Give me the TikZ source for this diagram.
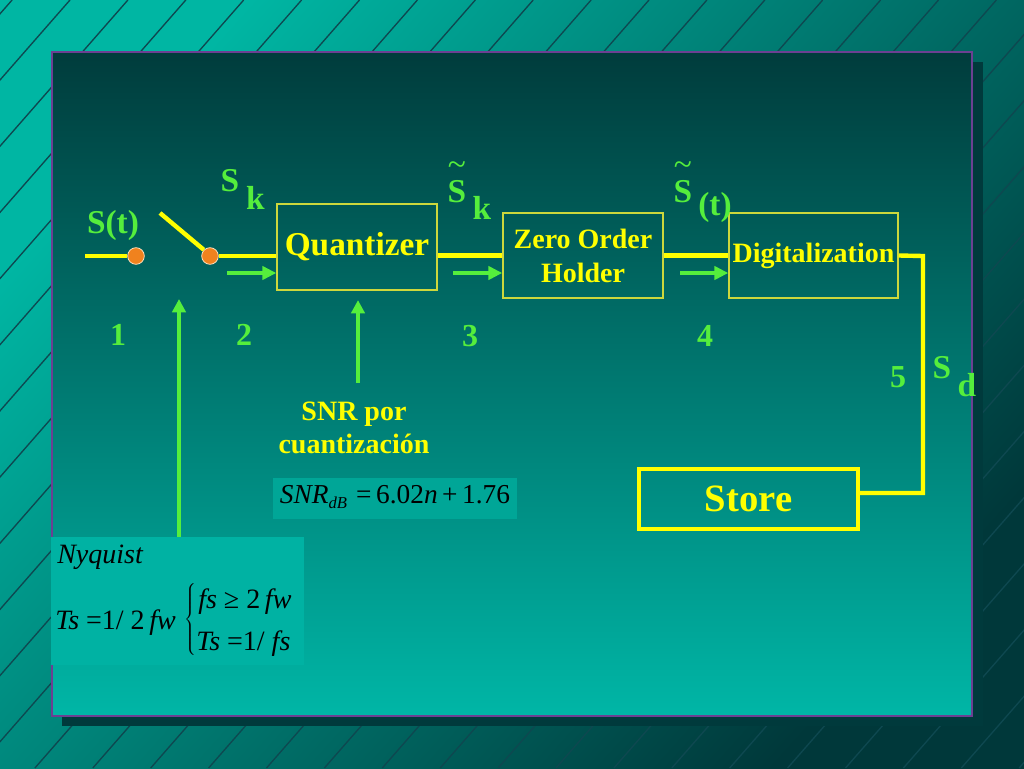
\documentclass[tikz,border=0pt]{standalone}
\usepackage{fontspec}
\setmainfont{Liberation Serif}
\usetikzlibrary{arrows.meta}
\definecolor{bgtop}{RGB}{0,182,163}
\definecolor{bgbot}{RGB}{0,56,58}
\definecolor{hatchc}{RGB}{14,72,80}
\definecolor{shadowc}{RGB}{0,58,60}
\definecolor{paneltop}{RGB}{0,60,60}
\definecolor{panelbot}{RGB}{0,182,166}
\definecolor{panelborder}{RGB}{108,64,146}
\definecolor{yel}{RGB}{255,255,0}
\definecolor{boxc}{RGB}{205,215,60}
\definecolor{grn}{RGB}{85,238,60}
\definecolor{orng}{RGB}{240,130,30}
\definecolor{dotedge}{RGB}{255,225,190}
\definecolor{fboxc}{RGB}{0,166,151}
\definecolor{nyqc}{RGB}{0,178,163}
\newcommand{\tildeS}{\ooalign{S\cr\hidewidth\raisebox{0.8em}{\mdseries\textasciitilde}\hidewidth\cr}}
\begin{document}
\begin{tikzpicture}[x=0.75pt,y=-0.75pt,
  hatch/.style={draw=hatchc,line width=1pt},
  sig/.style={draw=yel,line width=3.3pt},
  blk/.style={draw=boxc,line width=1.1pt,inner sep=0pt,text=yel,align=center},
  garrow/.style={draw=grn,line width=3pt,-{Triangle[length=10.5pt,width=10pt]}},
  varrow/.style={draw=grn,line width=3.6pt,-{Triangle[length=10pt,width=10pt]}},
  lbl/.style={text=grn,inner sep=0pt,font=\bfseries\fontsize{25}{30}\selectfont},
  num/.style={text=grn,inner sep=0pt,font=\bfseries\fontsize{24}{28}\selectfont},
  dotn/.style={circle,fill=orng,draw=dotedge,line width=0.6pt,minimum size=12.5pt,inner sep=0pt},
  blk txt/.style={text=black,inner sep=0pt}
]
\useasboundingbox (0,0) rectangle (1024,768);
% background
\shade[top color=bgtop,bottom color=bgbot,shading angle=48] (0,0) rectangle (1024,768);
\begin{scope}
  \clip (0,0) rectangle (1024,768);
  \foreach \k in {-1,...,29} {
    \draw[hatch] ({70+57.9*\k},0) -- ({70+57.9*\k-672},768);
  }
\end{scope}
% panel
\fill[shadowc] (62,62) rectangle (983,726);
\shade[top color=paneltop,bottom color=panelbot] (52,52) rectangle (972,716);
\draw[panelborder,line width=2pt] (52,52) rectangle (972,716);

% Nyquist box and formula box
\node[fill=nyqc,minimum width=189.75pt,minimum height=96pt,inner sep=0pt] (nyq) at (177.5,601) {};
\node[fill=fboxc,minimum width=183pt,minimum height=30.75pt,inner sep=0pt] (snrf) at (395,498.5) {};

% blocks
\node[blk,minimum width=120pt,minimum height=64.5pt,font=\bfseries\fontsize{25}{30}\selectfont] (quant) at (357,247) {Quantizer};
\node[blk,minimum width=120pt,minimum height=63.75pt,font=\bfseries\fontsize{21}{25.5}\selectfont] (zoh) at (583,255.5) {Zero Order\\Holder};
\node[blk,minimum width=126.75pt,minimum height=63.75pt,font=\bfseries\fontsize{21}{25}\selectfont] (dig) at (813.5,255.5) {Digitalization};
\node[draw=yel,line width=2.3pt,minimum width=164.25pt,minimum height=45pt,inner sep=0pt,text=yel,font=\bfseries\fontsize{29}{34}\selectfont] (store) at (748.5,499) {Store};

% switch
\coordinate (in) at (85,256);
\node[dotn] (d1) at (136,256) {};
\coordinate (swtop) at (160,213);
\node[dotn] (d2) at (210,256) {};
\draw[sig] (in) -- (d1.west);
\draw[sig] (swtop) -- (d2.north west);
\draw[sig] (d2.east) -- (d2 -| quant.west);
\draw[sig] (quant.east |- zoh.west) -- (zoh.west);
\draw[sig] (zoh.east) -- (dig.west);
\coordinate (turn) at (923,256);
\draw[sig,line join=miter] (dig.east) -- (turn) |- ([yshift=4.5pt]store.east);

% green arrows
\coordinate (a1) at (227,273);
\coordinate (a2) at (453,273);
\coordinate (a3) at (680,273);
\draw[garrow] (a1) -- (a1 -| quant.west);
\draw[garrow] (a2) -- (a2 -| zoh.west);
\draw[garrow] (a3) -- (a3 -| dig.west);
\coordinate (u1s) at (179,537);
\coordinate (u1e) at (179,299);
\draw[varrow] (u1s) -- (u1e);
\coordinate (u2s) at (358,383);
\draw[varrow] (u2s) -- ([yshift=-7pt]quant.south -| u2s);

% labels
\node[lbl] (st) at (113,225) {S(t)};
\node[lbl] (sk1) at (230,181) {S};
\node[lbl] (sk2) at (255.5,198) {k};
\node[lbl,anchor=base] (skt1) at (457,202) {\tildeS};
\node[lbl] (skt2) at (482,208) {k};
\node[lbl,anchor=base] (stt1) at (683,202) {\tildeS};
\node[lbl] (stt2) at (715,207) {(t)};
\node[lbl] (sd1) at (942,368) {S};
\node[lbl] (sd2) at (967,385) {d};
\node[num] (n1) at (118,335) {1};
\node[num] (n2) at (244,335) {2};
\node[num] (n3) at (470,336) {3};
\node[num] (n4) at (705,336) {4};
\node[num] (n5) at (898,377) {5};

% SNR text
\node[text=yel,inner sep=0pt,align=center,font=\bfseries\fontsize{21}{24.5}\selectfont] (snrt) at (354,428) {SNR por\\cuantización};
\node[blk txt,font=\fontsize{20.5}{24}\selectfont] (snrformula) at (395,497) {\textit{SNR}\raisebox{-0.35ex}{\fontsize{12.5}{14}\selectfont\textit{dB}}\,\,=\,6.02\textit{n}\,+\,1.76};

% Nyquist contents
\node[blk txt,anchor=base west,font=\itshape\fontsize{21}{24}\selectfont] (nyt) at (57,563) {Nyquist};
\node[blk txt,anchor=base west,font=\fontsize{21}{24}\selectfont] (ts1) at (55,629) {\textit{Ts} =1/ 2\,\textit{fw}};
\node[blk txt,inner sep=0pt] (brace) at (190,621) {$\left\{\vrule height 27pt depth 27pt width 0pt\right.\kern-\nulldelimiterspace$};
\node[blk txt,anchor=base west,font=\fontsize{21}{24}\selectfont] (c1) at (198,608) {\textit{fs} ≥ 2\,\textit{fw}};
\node[blk txt,anchor=base west,font=\fontsize{21}{24}\selectfont] (c2) at (196,650) {\textit{Ts} =1/ \textit{fs}};
\end{tikzpicture}
\end{document}
